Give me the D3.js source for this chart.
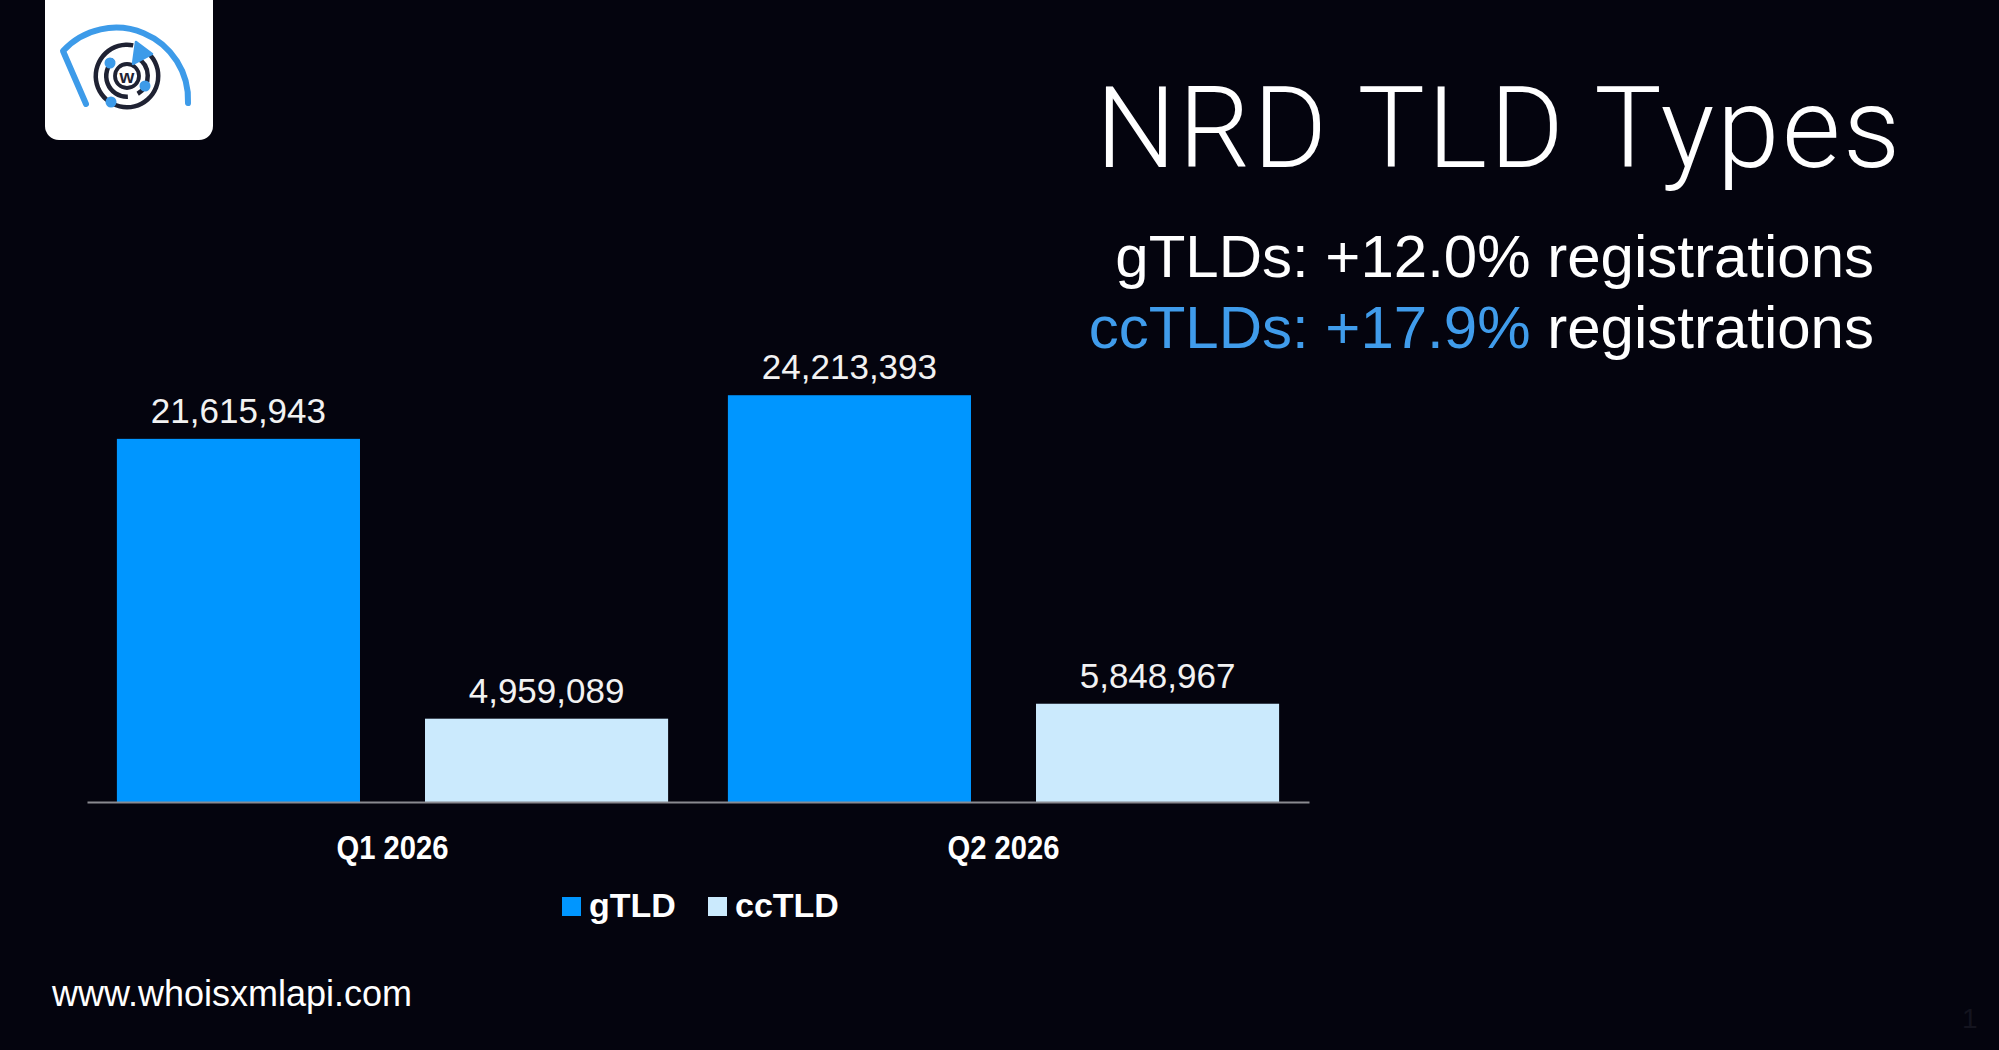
<!DOCTYPE html>
<html>
<head>
<meta charset="utf-8">
<script src="https://cdn.jsdelivr.net/npm/d3@7"></script>
<style>
  html, body { margin: 0; padding: 0; background: #04040e; }
  svg { display: block; }
  text { font-family: "Liberation Sans", Arial, sans-serif; }
</style>
</head>
<body>
<div id="chart"></div>
<script>
// data
let quarters = ['Q1 2026', 'Q2 2026'];
let series = ['gTLD', 'ccTLD'];
let gtldRegs = [21615943, 24213393];
let cctldRegs = [4959089, 5848967];
let seriesColors = ['#0096ff', '#cbeafd'];

let W = 1999, H = 1050;
let plot = { left: 87, right: 1309, base: 802, top: 298 };

const svg = d3.select('#chart')
	.append('svg')
	.attr('width', W)
	.attr('height', H);

svg.append('rect').attr('width', W).attr('height', H).attr('fill', '#04040e');

// rows for the grouped bars
let rows = quarters.map((q, i) => ({ quarter: q, gTLD: gtldRegs[i], ccTLD: cctldRegs[i] }));

let x0 = d3.scaleBand().domain(quarters).range([plot.left, plot.right]).padding(0);
let x1 = d3.scaleBand().domain(series).range([0, x0.bandwidth()]).paddingInner(0.211).paddingOuter(0.097);
let y = d3.scaleLinear().domain([0, 30e6]).range([plot.base, plot.top]);
let color = d3.scaleOrdinal().domain(series).range(seriesColors);

let groups = svg.append('g')
	.selectAll('g')
	.data(rows)
	.enter()
	.append('g')
	.attr('transform', (d) => 'translate(' + x0(d.quarter) + ',0)');

groups.selectAll('rect')
	.data((d) => series.map((s) => ({ key: s, value: d[s] })))
	.enter()
	.append('rect')
	.attr('x', (d) => x1(d.key))
	.attr('y', (d) => y(d.value))
	.attr('width', x1.bandwidth())
	.attr('height', (d) => plot.base - y(d.value))
	.attr('fill', (d) => color(d.key));

groups.selectAll('text.val')
	.data((d) => series.map((s) => ({ key: s, value: d[s] })))
	.enter()
	.append('text')
	.attr('class', 'val')
	.attr('x', (d) => x1(d.key) + x1.bandwidth() / 2)
	.attr('y', (d) => y(d.value) - 16)
	.attr('text-anchor', 'middle')
	.attr('fill', '#f2f2f2')
	.attr('font-size', 35)
	.text((d) => d3.format(',')(d.value));

// category axis (labels are a condensed bold, so squeeze them a bit)
const xAxis = d3.axisBottom(x0).tickSize(0).tickPadding(0);
let axg = svg.append('g').attr('transform', 'translate(0,' + plot.base + ')').call(xAxis);
axg.select('.domain').attr('stroke', '#8a8a90').attr('stroke-width', 2);
axg.selectAll('.tick text')
	.attr('dy', null)
	.attr('y', 57)
	.attr('transform', 'scale(0.86,1)')
	.attr('fill', '#ffffff')
	.attr('font-size', 34)
	.attr('font-weight', 'bold')
	.attr('font-family', '"Liberation Sans", Arial, sans-serif');

// legend
let legend = svg.append('g').attr('transform', 'translate(562,917)');
let legX = [0, 146];
series.forEach((s, i) => {
	legend.append('rect')
		.attr('x', legX[i])
		.attr('y', -20)
		.attr('width', 19)
		.attr('height', 19)
		.attr('fill', color(s));
	legend.append('text')
		.attr('x', legX[i] + 27)
		.attr('y', 0)
		.attr('fill', '#ffffff')
		.attr('font-size', 34)
		.attr('font-weight', 'bold')
		.text(s);
});

// title block
svg.append('text')
	.attr('x', 1903)
	.attr('y', 167)
	.attr('text-anchor', 'end')
	.attr('fill', '#ffffff')
	.attr('font-size', 113)
	.style('font-family', 'Roboto, "Liberation Sans", sans-serif')
	.style('font-weight', 300)
	.style('letter-spacing', '2.6px')
	.text('NRD TLD Types');

svg.append('text')
	.attr('x', 1874)
	.attr('y', 277)
	.attr('text-anchor', 'end')
	.attr('fill', '#ffffff')
	.attr('font-size', 60)
	.text('gTLDs: +12.0% registrations');

let sub2 = svg.append('text')
	.attr('x', 1874)
	.attr('y', 348)
	.attr('text-anchor', 'end')
	.attr('fill', '#ffffff')
	.attr('font-size', 60);
sub2.append('tspan').attr('fill', '#409ceb').text('ccTLDs: +17.9%');
sub2.append('tspan').text(' registrations');

// footer
svg.append('text')
	.attr('x', 52)
	.attr('y', 1006)
	.attr('fill', '#ffffff')
	.attr('font-size', 36)
	.text('www.whoisxmlapi.com');

svg.append('text')
	.attr('x', 1962)
	.attr('y', 1028)
	.attr('fill', '#14141f')
	.attr('font-size', 28)
	.text('1');

// logo badge
let logo = svg.append('g');
logo.append('rect')
	.attr('x', 45).attr('y', -20)
	.attr('width', 168).attr('height', 160)
	.attr('rx', 14)
	.attr('fill', '#ffffff');

let blue = '#3d9be9', navy = '#1f2233';
logo.append('path')
	.attr('d', 'M86,104 L63,51 A72,72 0 0 1 188,103')
	.attr('fill', 'none')
	.attr('stroke', blue)
	.attr('stroke-width', 6)
	.attr('stroke-linecap', 'round')
	.attr('stroke-linejoin', 'round');

let cx = 127, cy = 76;
let ring = d3.arc();
let lg = logo.append('g').attr('transform', 'translate(' + cx + ',' + cy + ')');
lg.append('path')
	.attr('d', ring({ innerRadius: 29, outerRadius: 33.5, startAngle: 0.75, endAngle: 2 * Math.PI + 0.2 }))
	.attr('fill', navy);
lg.append('path')
	.attr('d', ring({ innerRadius: 18.5, outerRadius: 23, startAngle: 0.5, endAngle: 2.6 }))
	.attr('fill', navy);
lg.append('path')
	.attr('d', ring({ innerRadius: 18.5, outerRadius: 23, startAngle: 3.1, endAngle: 5.6 }))
	.attr('fill', navy);
lg.append('circle').attr('r', 12).attr('fill', 'none').attr('stroke', navy).attr('stroke-width', 3.8);
lg.append('text')
	.attr('text-anchor', 'middle')
	.attr('y', 6.5)
	.attr('font-size', 19)
	.attr('font-weight', 'bold')
	.attr('fill', navy)
	.text('w');
lg.append('path')
	.attr('d', 'M9,-34 L25,-22 L6,-12 Z')
	.attr('fill', blue)
	.attr('stroke', blue)
	.attr('stroke-width', 2.5)
	.attr('stroke-linejoin', 'round');
[[-17, -13], [18, 10], [-16, 26]].forEach((p) => {
	lg.append('circle').attr('cx', p[0]).attr('cy', p[1]).attr('r', 5.5).attr('fill', blue);
});
</script>
</body>
</html>
